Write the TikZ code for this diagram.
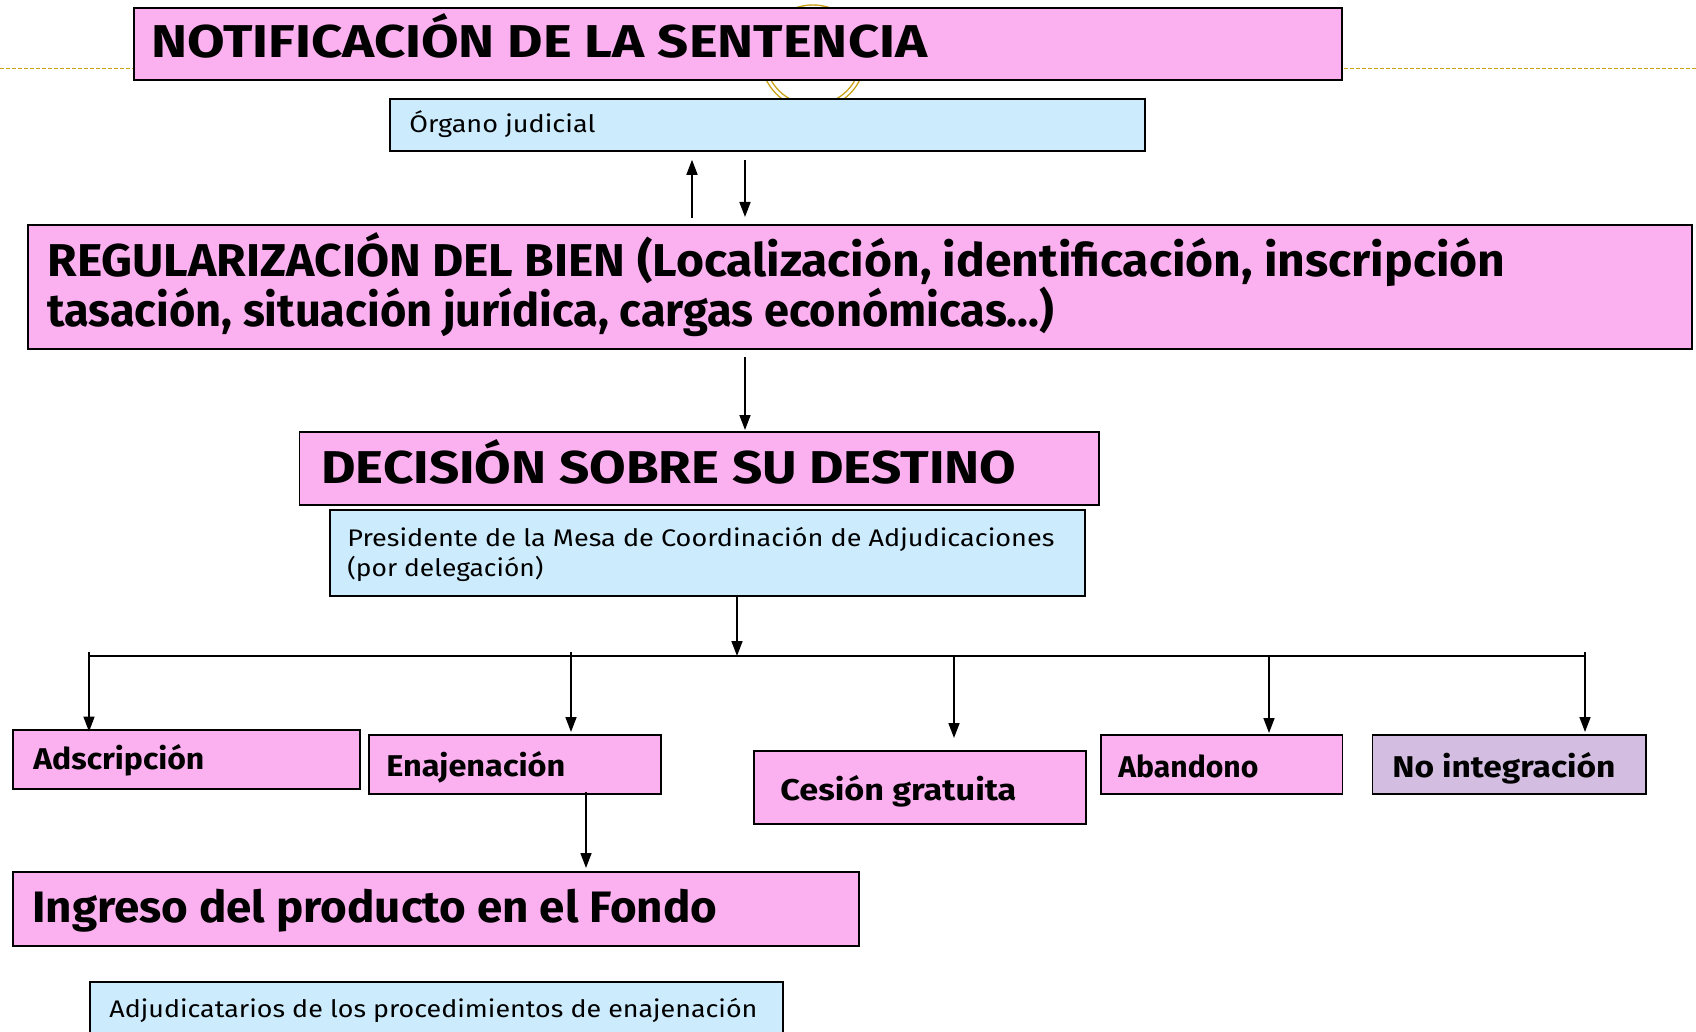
\documentclass[tikz,border=0pt]{standalone}
\usepackage{fontspec}
\setmainfont{Fira Sans}
\usetikzlibrary{arrows.meta}
\definecolor{pinkc}{HTML}{FBB1EF}
\definecolor{bluec}{HTML}{CCECFE}
\definecolor{lilacc}{HTML}{D3BDE0}
\definecolor{goldc}{HTML}{C8A012}
\newcommand{\fitw}[2]{\resizebox{#1}{\height}{#2}}
\begin{document}
\begin{tikzpicture}[x=0.5pt,y=-0.5pt,
  box/.style={draw=black, line width=0.9pt, inner sep=0pt, anchor=north west},
  txt/.style={inner sep=0pt, anchor=base west},
  titlef/.style={font=\fontsize{23}{27}\selectfont\bfseries},
  labf/.style={font=\fontsize{15}{18}\selectfont\bfseries},
  smallf/.style={font=\fontsize{12}{14}\selectfont},
  arr/.style={-{Triangle[length=7.5pt,width=5.5pt]}, line width=0.8pt},
  busline/.style={line width=1.2pt}]
\useasboundingbox (0,0) rectangle (1696,1032);

% decoration behind
\coordinate (dl) at (0,68.5);
\coordinate (dr) at (1696,68.5);
\draw[goldc, line width=0.8pt, dash pattern=on 2pt off 1pt] (dl) -- (dr);
\coordinate (ringc) at (813,57);
\draw[goldc, line width=0.7pt, double=white, double distance=1.3pt] (ringc) circle[radius=25pt];

% boxes
\node[box, fill=pinkc, minimum width=604pt, minimum height=36pt] (notif) at (133,7) {};
\node[box, fill=bluec, minimum width=377.5pt, minimum height=26pt] (organo) at (389,98) {};
\node[box, fill=pinkc, minimum width=832pt, minimum height=62pt] (regul) at (27,224) {};
\node[box, fill=pinkc, minimum width=399.75pt, minimum height=36.5pt] (decision) at (298.5,431) {};
\node[box, fill=bluec, minimum width=377.5pt, minimum height=43pt] (presid) at (329,509) {};
\node[box, fill=pinkc, minimum width=173.5pt, minimum height=29.5pt] (adscr) at (12,729) {};
\node[box, fill=pinkc, minimum width=146pt, minimum height=29.5pt] (enaj) at (368,734) {};
\node[box, fill=pinkc, minimum width=166pt, minimum height=36.5pt] (cesion) at (753,750) {};
\node[box, fill=pinkc, minimum width=120.75pt, minimum height=29.5pt] (aband) at (1100,734) {};
\node[box, fill=lilacc, minimum width=136.75pt, minimum height=29.5pt] (noint) at (1371.5,734) {};
\node[box, fill=pinkc, minimum width=423pt, minimum height=37pt] (ingreso) at (12,871) {};
\node[box, fill=bluec, minimum width=346.5pt, minimum height=35pt] (adjud) at (89,981) {};

% texts
\node[txt, titlef] (notif-t) at (151,58) {\fitw{388pt}{NOTIFICACIÓN DE LA SENTENCIA}};
\node[txt, smallf] (organo-t) at (409,133) {\fitw{93pt}{Órgano judicial}};
\node[txt, titlef] (regul-t1) at (47,276) {\fitw{729pt}{REGULARIZACIÓN DEL BIEN (Localización, identificación, inscripción}};
\node[txt, titlef] (regul-t2) at (47,326) {\fitw{503.5pt}{tasación, situación jurídica, cargas económicas…)}};
\node[txt, titlef] (decision-t) at (321,483) {\fitw{347.5pt}{DECISIÓN SOBRE SU DESTINO}};
\node[txt, smallf] (presid-t1) at (347,546) {\fitw{353.5pt}{Presidente de la Mesa de Coordinación de Adjudicaciones}};
\node[txt, smallf] (presid-t2) at (347,576) {\fitw{98pt}{(por delegación)}};
\node[txt, labf] (adscr-t) at (33,769) {\fitw{85.5pt}{Adscripción}};
\node[txt, labf] (enaj-t) at (386,776) {\fitw{89.5pt}{Enajenación}};
\node[txt, labf] (cesion-t) at (780,800) {\fitw{118pt}{Cesión gratuita}};
\node[txt, labf] (aband-t) at (1118,777) {\fitw{70pt}{Abandono}};
\node[txt, labf] (noint-t) at (1392,777) {\fitw{111.5pt}{No integración}};
\node[txt, font=\fontsize{22}{26}\selectfont\bfseries] (ingreso-t) at (32,922) {\fitw{342.5pt}{Ingreso del producto en el Fondo}};
\node[txt, smallf] (adjud-t) at (109,1017) {\fitw{324pt}{Adjudicatarios de los procedimientos de enajenación}};

% connectors
\coordinate (xa) at (692,0);
\coordinate (xb) at (745,0);
\draw[arr, shorten <=3pt, shorten >=4pt] (regul.north -| xa) -- (organo.south -| xa);
\draw[arr, shorten <=4pt, shorten >=3.5pt] (organo.south -| xb) -- (regul.north -| xb);
\draw[arr, shorten <=3.5pt, shorten >=0.5pt] (regul.south -| xb) -- (decision.north -| xb);

\coordinate (busL) at (89,656);
\coordinate (busR) at (1585,656);
\coordinate (junc) at (737,656);
\draw[busline] (busL) -- (busR);
\draw[arr] (presid.south -| junc) -- (junc);

\coordinate (b1) at (89,652);
\coordinate (b2) at (571,652);
\coordinate (b3) at (954,656);
\coordinate (b4) at (1269,656);
\coordinate (b5) at (1585,652);
\draw[arr, shorten >=-1.3pt] (b1) -- (adscr.north -| b1);
\draw[arr, shorten >=1pt] (b2) -- (enaj.north -| b2);
\draw[arr, shorten >=6pt] (b3) -- (cesion.north -| b3);
\draw[arr, shorten >=0.5pt] (b4) -- (aband.north -| b4);
\draw[arr, shorten >=1pt] (b5) -- (noint.north -| b5);

\coordinate (xc) at (586,0);
\draw[arr, shorten <=-1.5pt, shorten >=1.5pt] (enaj.south -| xc) -- (ingreso.north -| xc);
\end{tikzpicture}
\end{document}
